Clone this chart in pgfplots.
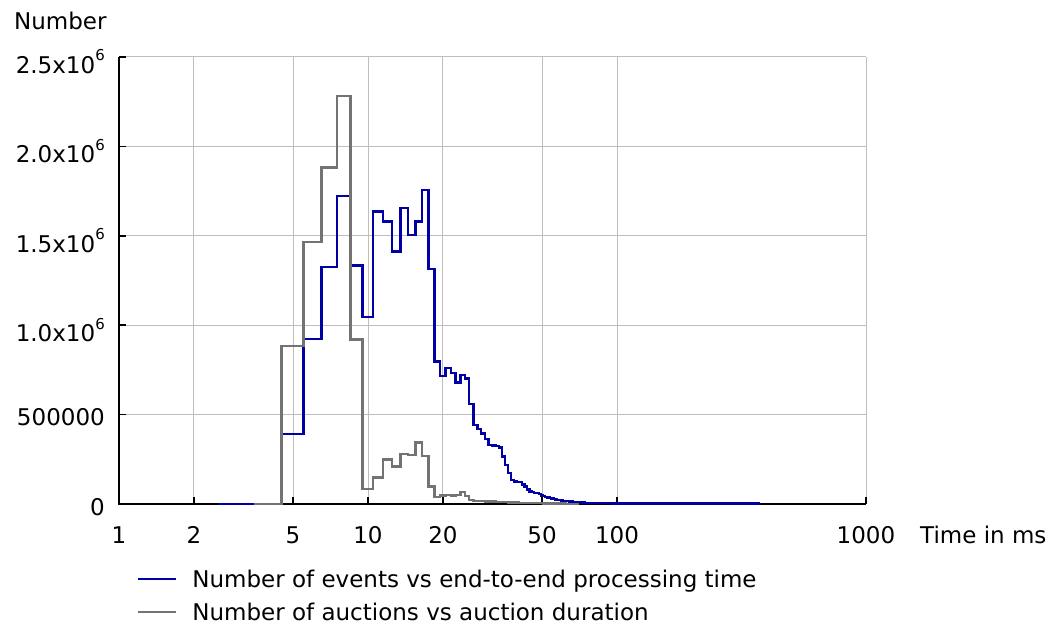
\documentclass[border=0pt]{standalone}
\usepackage{pgfplots}
\pgfplotsset{compat=1.18}
\usepackage{pgfplotstable}
\usepackage{fontspec}
\setmainfont{DejaVu Sans}

\definecolor{evblue}{RGB}{0,0,165}
\definecolor{augray}{RGB}{115,115,115}
\definecolor{gridgray}{RGB}{190,190,190}

\newcommand{\chartfont}{\fontsize{23}{28}\selectfont}
\newcommand{\sixth}{\raisebox{12.5pt}{\fontsize{15}{15}\selectfont 6}}

% Histogram counts per 1 ms bin; x is the left edge of each bin
\pgfplotstableread{
x      n
2.5    0
4.5    391000
5.5    923000
6.5    1324000
7.5    1723000
8.5    1335000
9.5    1046000
10.5   1635000
11.5   1579000
12.5   1413000
13.5   1654000
14.5   1504000
15.5   1579000
16.5   1756000
17.5   1313000
18.5   796000
19.5   716000
20.5   759000
21.5   731000
22.5   679000
23.5   721000
24.5   703000
25.5   559000
26.5   442000
27.5   418000
28.5   395000
29.5   362000
30.5   330000
31.5   327000
32.5   324000
33.5   317000
34.5   265000
35.5   218000
36.5   172000
37.5   134000
38.5   125000
39.5   124000
40.5   122000
41.5   110000
42.5   97000
43.5   80000
44.5   70000
45.5   66000
46.5   63000
47.5   60000
48.5   55000
49.5   47000
50.5   44000
51.5   40000
52.5   37000
53.5   34000
54.5   31000
55.5   29000
56.5   26000
57.5   24000
58.5   22000
59.5   20000
60.5   18000
62.5   16000
64.5   14000
66.5   12000
68.5   10000
71.5   8500
74.5   7000
78.5   6000
83.5   5000
89.5   4200
95.5   3600
105.5  3300
120.5  3000
150.5  2800
200.5  2600
260.5  2500
375.5  2500
}\eventtable

\pgfplotstableread{
x      n
3.5    0
4.5    884000
5.5    1464000
6.5    1881000
7.5    2282000
8.5    921000
9.5    84000
10.5   149000
11.5   250000
12.5   209000
13.5   280000
14.5   274000
15.5   344000
16.5   270000
17.5   98000
18.5   39000
19.5   47000
20.5   50000
21.5   48000
22.5   50000
23.5   66000
24.5   45000
25.5   22000
26.5   18000
27.5   17000
28.5   16000
29.5   14000
30.5   13000
32.5   12000
33.5   10000
35.5   11000
36.5   9000
38.5   8000
40.5   7000
43.5   6000
46.5   5000
50.5   3500
55.5   2500
62.5   1500
70.5   1500
}\auctiontable

\begin{document}
\begin{tikzpicture}
\begin{axis}[
  at={(0pt,0pt)}, anchor=south west,
  scale only axis, width=747pt, height=447pt,
  xmode=log, log basis x=10,
  xmin=1, xmax=1000, ymin=0, ymax=2500000,
  clip=false,
  xtick={1,2,5,10,20,50,100,1000},
  xticklabels={1,2,5,10,20,50,100,1000},
  ytick={0,500000,1000000,1500000,2000000,2500000},
  scaled y ticks=false,
  yticklabels={0\hspace{5pt},500000\hspace{5pt},
    \raisebox{-5.5pt}{1.0x10\sixth},\raisebox{-5.5pt}{1.5x10\sixth},
    \raisebox{-5.5pt}{2.0x10\sixth},\raisebox{-5.5pt}{2.5x10\sixth}},
  grid=major,
  major grid style={color=gridgray, line width=1pt},
  axis line style={draw=none},
  tick pos=left, tick align=inside,
  major tick length=7pt,
  major tick style={black, line width=1.5pt},
  every tick label/.append style={font=\chartfont},
  xticklabel style={anchor=base, inner sep=0pt, yshift=-39.3pt},
  yticklabel style={anchor=base east, inner sep=0pt, xshift=-14pt, yshift=-11pt},
  xlabel={Time in ms},
  ylabel={Number},
  every axis x label/.style={at={(rel axis cs:1,0)}, anchor=base west,
    inner sep=0pt, xshift=54pt, yshift=-39.3pt, font=\chartfont},
  every axis y label/.style={at={(rel axis cs:0,1)}, anchor=base west,
    inner sep=0pt, xshift=-105pt, yshift=27.7pt, font=\chartfont},
  legend cell align=left,
  legend image code/.code={\draw[#1] (0pt,0pt) -- (38pt,0pt);},
  legend style={at={(rel axis cs:0,0)}, anchor=north west,
    xshift=18pt, yshift=-63.5pt, draw=none, fill=none,
    inner sep=0pt, outer sep=0pt, row sep=10pt, column sep=15pt,
    font=\chartfont,
    nodes={inner sep=0pt, text height=19.5pt, text depth=3.5pt},
    cells={anchor=west}},
]
\draw[black, line width=2pt] (rel axis cs:0,1) -- (rel axis cs:0,0) -- (rel axis cs:1,0);
\addplot[const plot mark left, evblue, line width=2.4pt] table[x=x, y=n] {\eventtable};
\addlegendentry{Number of events vs end-to-end processing time}
\addplot[const plot mark left, augray, line width=2.4pt] table[x=x, y=n] {\auctiontable};
\addlegendentry{Number of auctions vs auction duration}
\end{axis}
\pgfresetboundingbox
\path[use as bounding box] (-119pt,-125pt) rectangle (940pt,504pt);
\end{tikzpicture}
\end{document}
